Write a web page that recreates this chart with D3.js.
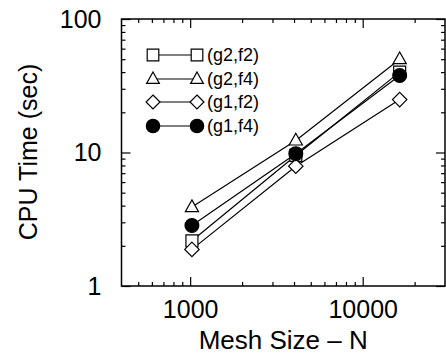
<!DOCTYPE html>
<html>
<head>
<meta charset="utf-8">
<script src="https://cdn.jsdelivr.net/npm/d3@7"></script>
<style>
  body { margin: 0; background: #fff; }
  text { font-family: "Liberation Sans", Arial, sans-serif; fill: #000; }
</style>
</head>
<body>
<div id="chart"></div>
<script>
const meshSizes = [1024, 4096, 16384];
const seriesNames = ['(g2,f2)', '(g2,f4)', '(g1,f2)', '(g1,f4)'];
const g2f2 = [2.18, 9.5, 40];
const g2f4 = [3.9, 12.3, 50];
const g1f2 = [1.88, 7.9, 24.9];
const g1f4 = [2.84, 9.8, 37.7];
const xTickLabels = [1000, 10000];
const yTickLabels = [1, 10, 100];

const width = 446, height = 355;
const plotL = 121.5, plotR = 445, plotT = 19, plotB = 286;

const svg = d3.select('#chart').append('svg')
  .attr('width', width)
  .attr('height', height);

const x = d3.scaleLog().domain([400, 30000]).range([plotL, plotR]);
const y = d3.scaleLog().domain([1, 100]).range([plotB, plotT]);

// minor ticks (2..9 of each decade)
const xMinor = [];
for (const d of [100, 1000, 10000]) {
  for (let k = 2; k <= 9; k++) {
    const v = d * k;
    if (v > 400 && v < 30000 && xTickLabels.indexOf(v) < 0) xMinor.push(v);
  }
}
const yMinor = [];
for (const d of [1, 10]) {
  for (let k = 2; k <= 9; k++) yMinor.push(d * k);
}

function styleAxis(g) {
  g.select('.domain').remove();
  g.selectAll('line').attr('stroke', '#000').attr('stroke-width', 1.2);
  g.selectAll('text').style('font-size', '25px').style('font-family', '"Liberation Sans", Arial, sans-serif');
}

// bottom
svg.append('g').attr('transform', `translate(0,${plotB})`)
  .call(d3.axisBottom(x).tickValues(xMinor).tickSize(-4).tickFormat(''))
  .call(styleAxis);
svg.append('g').attr('transform', `translate(0,${plotB})`)
  .call(d3.axisBottom(x).tickValues(xTickLabels).tickSize(-9).tickPadding(14).tickFormat(d3.format('d')))
  .call(styleAxis);
// top
svg.append('g').attr('transform', `translate(0,${plotT})`)
  .call(d3.axisTop(x).tickValues(xMinor).tickSize(-4).tickFormat(''))
  .call(styleAxis);
svg.append('g').attr('transform', `translate(0,${plotT})`)
  .call(d3.axisTop(x).tickValues(xTickLabels).tickSize(-9).tickFormat(''))
  .call(styleAxis);
// left
svg.append('g').attr('transform', `translate(${plotL},0)`)
  .call(d3.axisLeft(y).tickValues(yMinor).tickSize(-4).tickFormat(''))
  .call(styleAxis);
svg.append('g').attr('transform', `translate(${plotL},0)`)
  .call(d3.axisLeft(y).tickValues(yTickLabels).tickSize(-9).tickPadding(20).tickFormat(d3.format('d')))
  .call(styleAxis);
// right
svg.append('g').attr('transform', `translate(${plotR},0)`)
  .call(d3.axisRight(y).tickValues(yMinor).tickSize(-4).tickFormat(''))
  .call(styleAxis);
svg.append('g').attr('transform', `translate(${plotR},0)`)
  .call(d3.axisRight(y).tickValues(yTickLabels).tickSize(-9).tickFormat(''))
  .call(styleAxis);

// frame
svg.append('rect')
  .attr('x', plotL).attr('y', plotT)
  .attr('width', plotR - plotL).attr('height', plotB - plotT)
  .attr('fill', 'none').attr('stroke', '#000').attr('stroke-width', 1.5);

// marker shapes
const shapes = {
  square: (s) => `M${-s},${-s}H${s}V${s}H${-s}Z`,
  triangle: (s) => `M0,${-s * 1.2}L${s * 1.1},${s * 0.75}H${-s * 1.1}Z`,
  diamond: (s) => `M0,${-s * 1.2}L${s * 1.2},0L0,${s * 1.2}L${-s * 1.2},0Z`,
  circle: (s) => `M${s * 1.15},0A${s * 1.15},${s * 1.15} 0 1,1 ${-s * 1.15},0A${s * 1.15},${s * 1.15} 0 1,1 ${s * 1.15},0Z`
};

const series = [
  { name: seriesNames[0], values: g2f2, shape: 'square', fill: '#fff' },
  { name: seriesNames[1], values: g2f4, shape: 'triangle', fill: '#fff' },
  { name: seriesNames[2], values: g1f2, shape: 'diamond', fill: '#fff' },
  { name: seriesNames[3], values: g1f4, shape: 'circle', fill: '#000' }
];

const line = d3.line().x((d) => x(d[0])).y((d) => y(d[1]));

// lines first
series.forEach((s) => {
  svg.append('path')
    .attr('d', line(meshSizes.map((m, i) => [m, s.values[i]])))
    .attr('fill', 'none')
    .attr('stroke', '#000')
    .attr('stroke-width', 1.2);
});

// markers
series.forEach((s) => {
  svg.selectAll(null)
    .data(meshSizes.map((m, i) => [m, s.values[i]]))
    .enter()
    .append('path')
    .attr('transform', (d) => `translate(${x(d[0])},${y(d[1])})`)
    .attr('d', shapes[s.shape](6))
    .attr('fill', s.fill)
    .attr('stroke', '#000')
    .attr('stroke-width', 1.2);
});

// legend
const legendRows = [55, 79, 102, 126];
series.forEach((s, i) => {
  const g = svg.append('g').attr('transform', `translate(0,${legendRows[i]})`);
  g.append('line')
    .attr('x1', 153).attr('x2', 197)
    .attr('stroke', '#000').attr('stroke-width', 1.2);
  [153, 197].forEach((mx) => {
    g.append('path')
      .attr('transform', `translate(${mx},0)`)
      .attr('d', shapes[s.shape](5.8))
      .attr('fill', s.fill)
      .attr('stroke', '#000')
      .attr('stroke-width', 1.2);
  });
  g.append('text')
    .attr('x', 207)
    .attr('dy', '0.35em')
    .style('font-size', '18px')
    .text(s.name);
});

// axis titles
svg.append('text')
  .attr('x', (plotL + plotR) / 2)
  .attr('y', 349)
  .attr('text-anchor', 'middle')
  .style('font-size', '26px')
  .text('Mesh Size \u2013 N');

svg.append('text')
  .attr('transform', `translate(37,152) rotate(-90)`)
  .attr('text-anchor', 'middle')
  .style('font-size', '25px')
  .text('CPU Time (sec)');
</script>
</body>
</html>
